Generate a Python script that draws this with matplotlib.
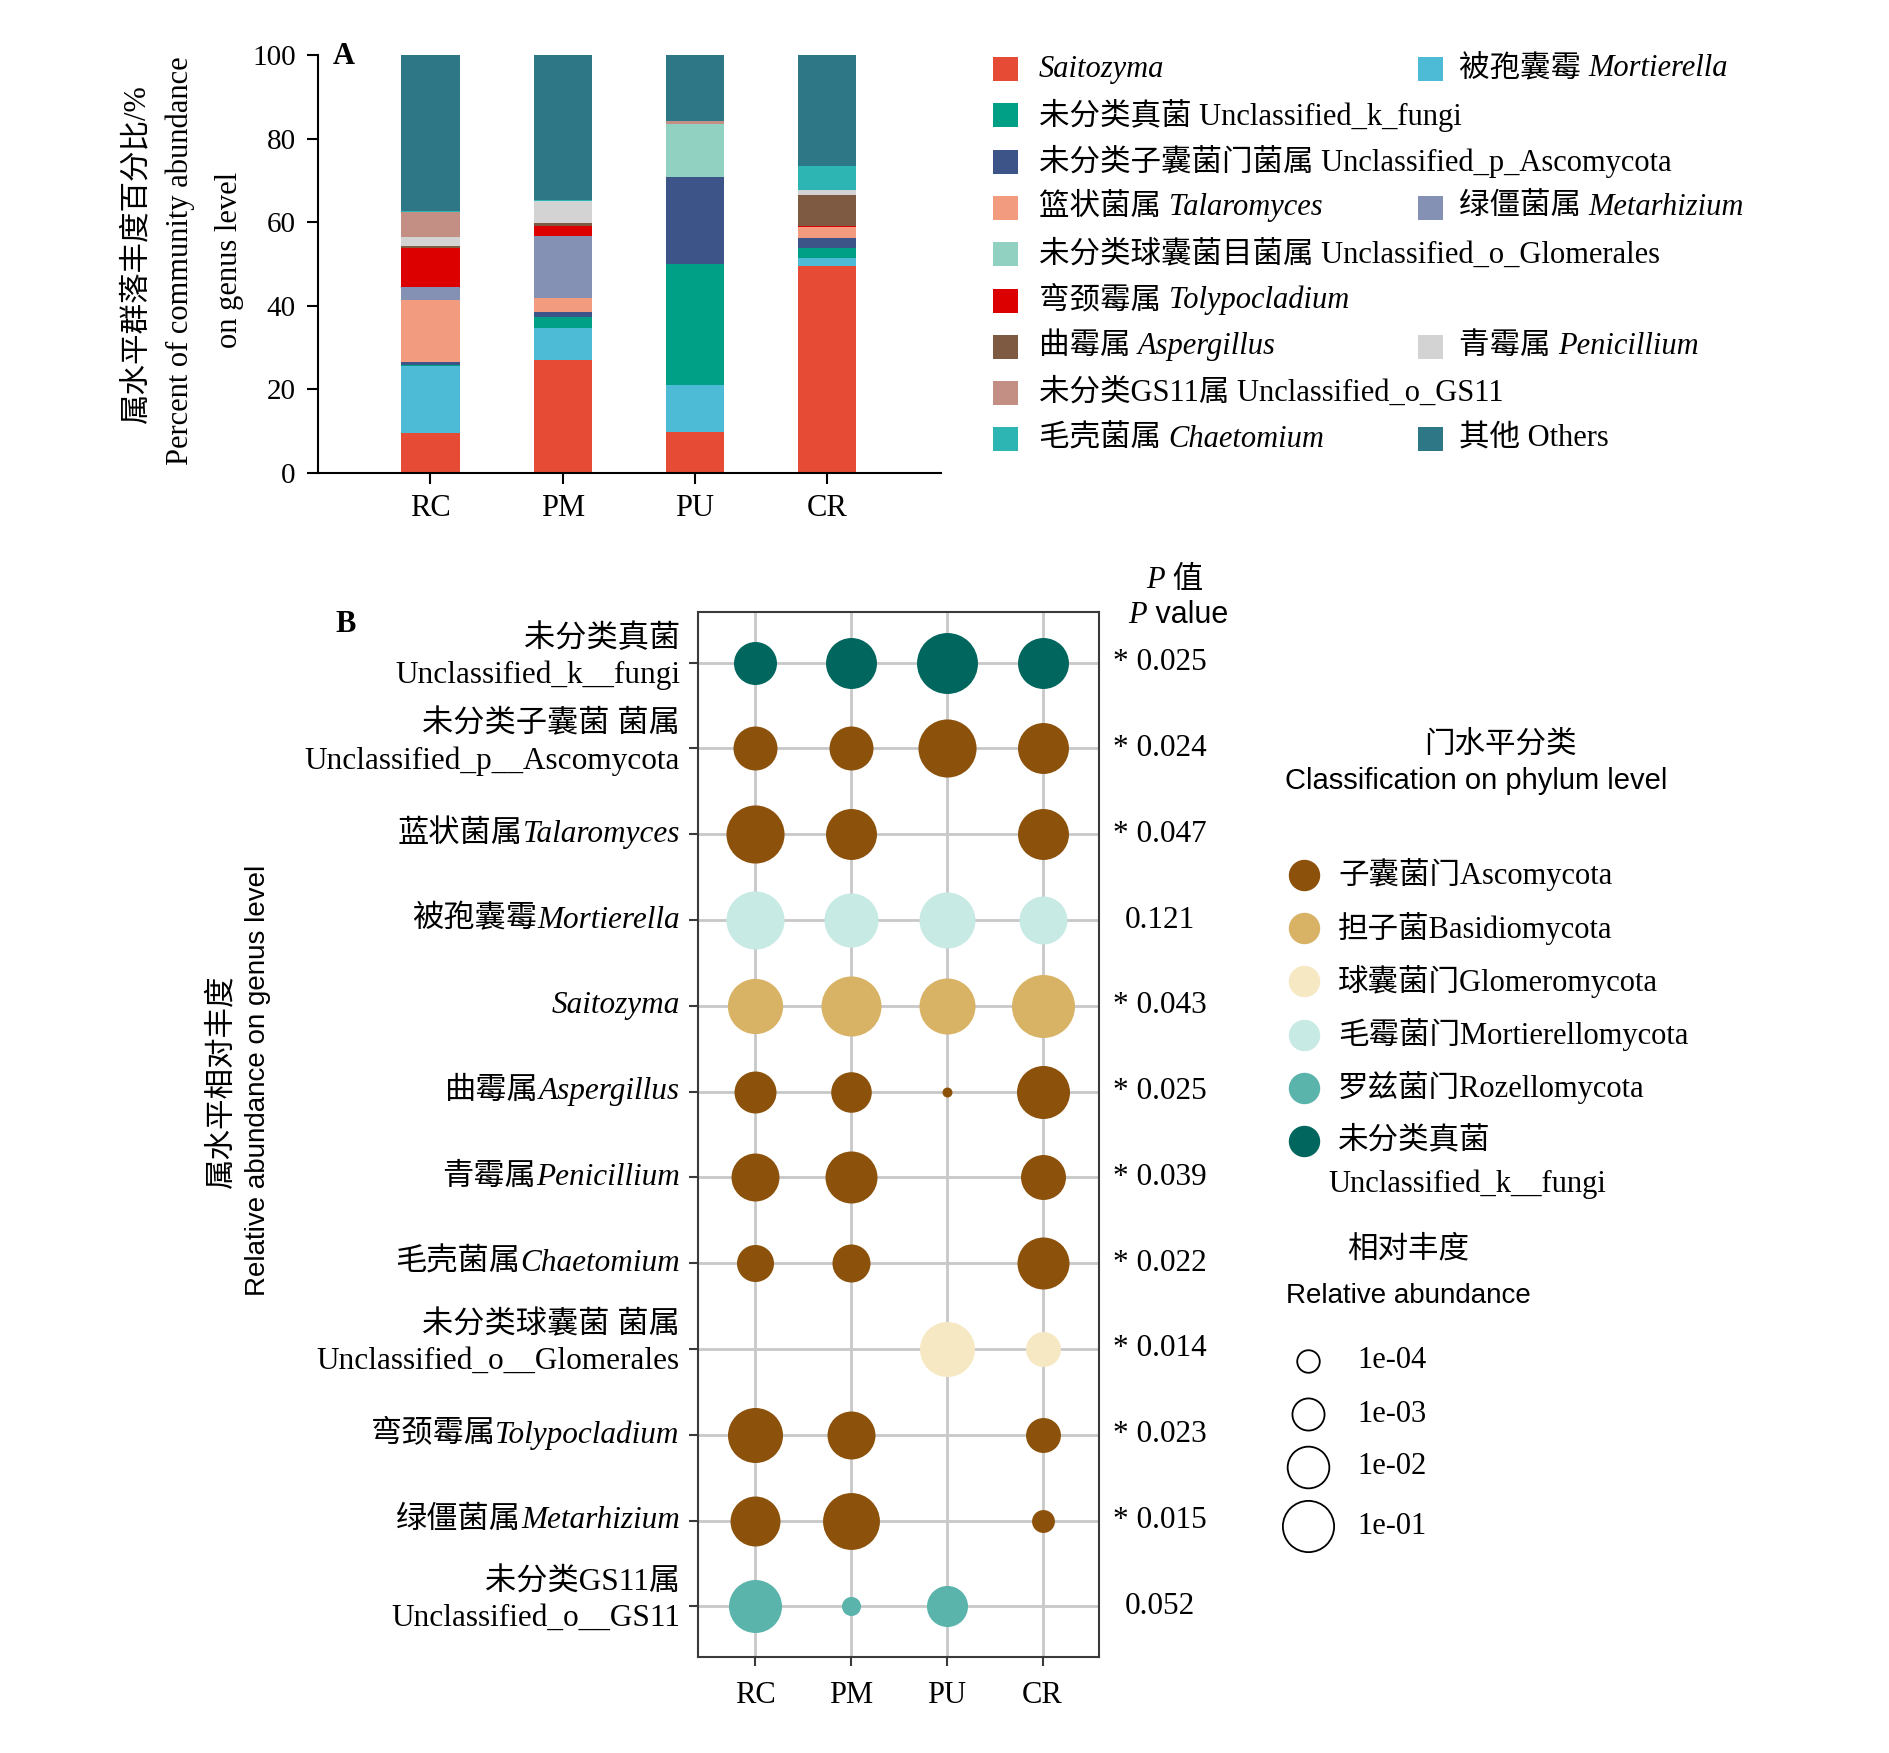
import numpy as np
import matplotlib
matplotlib.use('Agg')
import matplotlib.pyplot as plt
from matplotlib.offsetbox import TextArea, HPacker, AnnotationBbox
from matplotlib.lines import Line2D
from matplotlib.patches import Rectangle

W, H = 1890, 1753
SERIF = ['Liberation Serif', 'Noto Sans CJK SC']
SANS = ['Liberation Sans', 'Noto Sans CJK SC']
plt.rcParams['font.family'] = SERIF

groups = ['RC', 'PM', 'PU', 'CR']

# ---------------- panel A data (percent, stacking order bottom->top)
genus_a = ['Saitozyma', 'Mortierella', 'Unclassified_k_fungi', 'Unclassified_p_Ascomycota',
           'Talaromyces', 'Metarhizium', 'Unclassified_o_Glomerales', 'Tolypocladium',
           'Aspergillus', 'Penicillium', 'Unclassified_o_GS11', 'Chaetomium', 'Others']
colors_a = ['#E64B35', '#4DBBD5', '#00A087', '#3C5488', '#F39B7F', '#8491B4', '#91D1C2',
            '#DC0000', '#7E5A43', '#D3D3D3', '#C38F85', '#2CB5B3', '#2E7787']
rc_pct = [9.6, 15.9, 0.4, 0.7, 14.9, 3.0, 0.0, 9.4, 0.4, 2.1, 6.1, 0.1, 37.4]
pm_pct = [27.1, 7.6, 2.6, 1.2, 3.3, 14.9, 0.0, 2.5, 0.6, 5.2, 0.0, 0.2, 34.8]
pu_pct = [9.8, 11.2, 29.0, 20.9, 0.0, 0.0, 12.6, 0.0, 0.0, 0.0, 0.6, 0.0, 15.9]
cr_pct = [49.6, 1.8, 2.5, 2.4, 2.5, 0.0, 0.0, 0.4, 7.2, 1.2, 0.0, 5.9, 26.5]

# legend A entries: (parts, genus index, column, row)
legend_a = [
    ([('Saitozyma', True)], 0, 0, 0),
    ([('被孢囊霉 ', False), ('Mortierella', True)], 1, 1, 0),
    ([('未分类真菌 Unclassified_k_fungi', False)], 2, 0, 1),
    ([('未分类子囊菌门菌属 Unclassified_p_Ascomycota', False)], 3, 0, 2),
    ([('篮状菌属 ', False), ('Talaromyces', True)], 4, 0, 3),
    ([('绿僵菌属 ', False), ('Metarhizium', True)], 5, 1, 3),
    ([('未分类球囊菌目菌属 Unclassified_o_Glomerales', False)], 6, 0, 4),
    ([('弯颈霉属 ', False), ('Tolypocladium', True)], 7, 0, 5),
    ([('曲霉属 ', False), ('Aspergillus', True)], 8, 0, 6),
    ([('青霉属 ', False), ('Penicillium', True)], 9, 1, 6),
    ([('未分类GS11属 Unclassified_o_GS11', False)], 10, 0, 7),
    ([('毛壳菌属 ', False), ('Chaetomium', True)], 11, 0, 8),
    ([('其他 Others', False)], 12, 1, 8),
]

# ---------------- panel B data (relative abundance, nan = absent)
labels_b = [
    [('未分类真菌\nUnclassified_k__fungi', False)],
    [('未分类子囊菌 菌属\nUnclassified_p__Ascomycota', False)],
    [('蓝状菌属', False), ('Talaromyces', True)],
    [('被孢囊霉', False), ('Mortierella', True)],
    [('Saitozyma', True)],
    [('曲霉属', False), ('Aspergillus', True)],
    [('青霉属', False), ('Penicillium', True)],
    [('毛壳菌属', False), ('Chaetomium', True)],
    [('未分类球囊菌 菌属\nUnclassified_o__Glomerales', False)],
    [('弯颈霉属', False), ('Tolypocladium', True)],
    [('绿僵菌属', False), ('Metarhizium', True)],
    [('未分类GS11属\nUnclassified_o__GS11', False)],
]
phylum_b = ['Unclassified', 'Ascomycota', 'Ascomycota', 'Mortierellomycota', 'Basidiomycota',
            'Ascomycota', 'Ascomycota', 'Ascomycota', 'Glomeromycota', 'Ascomycota',
            'Ascomycota', 'Rozellomycota']
nan = np.nan
abund_rc = [0.006, 0.0075, 0.17, 0.17, 0.09, 0.0048, 0.018, 0.0016, nan, 0.086, 0.028, 0.055]
abund_pm = [0.035, 0.0075, 0.035, 0.07, 0.26, 0.0035, 0.044, 0.002, nan, 0.018, 0.13, 0.00003]
abund_pu = [0.32, 0.17, nan, 0.107, 0.107, 0.000004, nan, nan, 0.086, nan, nan, 0.0039]
abund_cr = [0.035, 0.035, 0.035, 0.018, 0.50, 0.055, 0.0093, 0.044, 0.001, 0.001, 0.00007, nan]
pvals = ['* 0.025', '* 0.024', '* 0.047', '0.121', '* 0.043', '* 0.025', '* 0.039',
         '* 0.022', '* 0.014', '* 0.023', '* 0.015', '0.052']

phyla = ['Ascomycota', 'Basidiomycota', 'Glomeromycota', 'Mortierellomycota',
         'Rozellomycota', 'Unclassified']
phyla_cn = ['子囊菌门', '担子菌', '球囊菌门', '毛霉菌门', '罗兹菌门', '未分类真菌']
phyla_col = ['#8C510A', '#D8B365', '#F6E8C3', '#C7EAE5', '#5AB4AC', '#01665E']
size_breaks = [1e-4, 1e-3, 1e-2, 1e-1]


def diam_px(a):
    return 66.1 + 10.4 * np.log10(a)


def mixed(parts, size, fam=SERIF):
    kids = []
    for p in parts:
        t, it = p[0], p[1]
        f = p[2] if len(p) > 2 else fam
        kids.append(TextArea(t, textprops=dict(fontsize=size, family=f,
                                               style='italic' if it else 'normal')))
    return HPacker(children=kids, align='baseline', pad=0, sep=0)


def put(fig, box, x, y, align=(0, 0.5)):
    ab = AnnotationBbox(box, (x, H - y), xycoords='figure pixels', box_alignment=align,
                        frameon=False, pad=0)
    fig.add_artist(ab)


fig = plt.figure(figsize=(W / 100, H / 100), dpi=100)

# ---------------- panel A
ax_a = fig.add_axes([318 / W, (H - 473) / H, (941 - 318) / W, (473 - 55) / H])
data_a = np.array([rc_pct, pm_pct, pu_pct, cr_pct]).T
xs = np.arange(len(groups))
bottom = np.zeros(len(groups))
for i, g in enumerate(genus_a):
    ax_a.bar(xs, data_a[i], bottom=bottom, width=0.44, color=colors_a[i], linewidth=0)
    bottom += data_a[i]
ax_a.set_xlim(-0.85, 3.86)
ax_a.set_ylim(0, 100)
ax_a.set_yticks([0, 20, 40, 60, 80, 100])
ax_a.set_xticks(xs)
ax_a.set_xticklabels(groups, fontsize=22)
for s in ['top', 'right']:
    ax_a.spines[s].set_visible(False)
for s in ['left', 'bottom']:
    ax_a.spines[s].set_linewidth(1.5)
ax_a.tick_params(axis='y', labelsize=21, length=8, width=1.5, pad=8)
ax_a.tick_params(axis='x', length=8, width=1.5, pad=7)

fig.text(137 / W, 1 - 255 / H, '属水平群落丰度百分比/%', rotation=90, ha='center', va='center', fontsize=22)
fig.text(180 / W, 1 - 261 / H, 'Percent of community abundance', rotation=90, ha='center', va='center', fontsize=22)
fig.text(230 / W, 1 - 260 / H, 'on genus level', rotation=90, ha='center', va='center', fontsize=22)
fig.text(333 / W, 1 - 56 / H, 'A', fontsize=22, fontweight='bold', va='center')

# legend A
col_patch = [993, 1418]
col_text = [1039, 1459]
for parts, gi, col, row in legend_a:
    yc = 69 + row * 46.3
    fig.add_artist(Rectangle(((col_patch[col]) / W, 1 - (yc + 12) / H), 25 / W, 24 / H,
                             transform=fig.transFigure, color=colors_a[gi], lw=0))
    put(fig, mixed(parts, 22), col_text[col], yc)

# ---------------- panel B
ax_b = fig.add_axes([698 / W, (H - 1657) / H, 401 / W, 1045 / H])
ab_all = np.array([abund_rc, abund_pm, abund_pu, abund_cr]).T
rows = np.arange(len(labels_b))
for r in rows:
    col = phyla_col[phyla.index(phylum_b[r])]
    for c in range(len(groups)):
        v = ab_all[r, c]
        if np.isnan(v):
            continue
        ax_b.scatter(c, r, s=(diam_px(v) * 0.72) ** 2, color=col, linewidths=0, zorder=3)
ax_b.set_xlim(-0.6, 3.59)
ax_b.set_ylim(11.59, -0.59)
ax_b.set_xticks(xs)
ax_b.set_xticklabels(groups, fontsize=22)
ax_b.set_yticks(rows)
ax_b.tick_params(axis='y', labelleft=False, length=6.5, width=1.5, color='#3a3a3a')
ax_b.tick_params(axis='x', length=6.5, width=1.5, color='#3a3a3a', pad=11)
ax_b.grid(True, color='#c8c8c8', linewidth=2)
ax_b.set_axisbelow(True)
for s in ax_b.spines.values():
    s.set_color('#3a3a3a')
    s.set_linewidth(1.5)

ytr = ax_b.get_yaxis_transform()
for r in rows:
    parts = labels_b[r]
    if len(parts) == 1 and '\n' in parts[0][0]:
        ax_b.annotate(parts[0][0], xy=(0, r), xycoords=ytr, xytext=(-13, 4),
                      textcoords='offset points', ha='right', va='center', ma='right',
                      fontsize=22.5, linespacing=1.3, annotation_clip=False)
    else:
        box = mixed(parts, 22.5)
        a = AnnotationBbox(box, (0, r), xycoords=ytr, xybox=(-13, 0), boxcoords='offset points',
                           box_alignment=(1, 0.5), frameon=False, pad=0, annotation_clip=False)
        ax_b.add_artist(a)
    ax_b.annotate(pvals[r], xy=(1, r), xycoords=ytr, xytext=(44, 0), textcoords='offset points',
                  ha='center', va='center', fontsize=22.5, annotation_clip=False)

put(fig, mixed([('P', True), (' 值', False)], 22), 1175, 580, align=(0.5, 0.5))
put(fig, mixed([('P', True), (' value', False, SANS)], 22), 1178, 615, align=(0.5, 0.5))

fig.text(222 / W, 1 - 1082 / H, '属水平相对丰度', rotation=90, ha='center', va='center', fontsize=22)
fig.text(258 / W, 1 - 1080 / H, 'Relative abundance on genus level', rotation=90, ha='center',
         va='center', fontsize=20, family=SANS)
fig.text(335 / W, 1 - 625 / H, 'B', fontsize=22, fontweight='bold', va='center')

# legend B : phylum colours
fig.text(1500 / W, 1 - 745 / H, '门水平分类', ha='center', va='center', fontsize=22)
fig.text(1476 / W, 1 - 781 / H, 'Classification on phylum level', ha='center', va='center',
         fontsize=21, family=SANS)
for i, (cn, en) in enumerate(zip(phyla_cn, phyla)):
    yc = 875 + i * 53.2
    fig.add_artist(Line2D([1304 / W], [1 - yc / H], transform=fig.transFigure, marker='o',
                          markersize=30 * 0.72, color=phyla_col[i], linestyle=''))
    if en == 'Unclassified':
        fig.text(1338 / W, 1 - yc / H, cn, va='center', fontsize=22)
        fig.text(1328 / W, 1 - 1184 / H, 'Unclassified_k__fungi', va='center', fontsize=22)
    else:
        fig.text(1338 / W, 1 - yc / H, cn + en, va='center', fontsize=22)

# legend B : sizes
fig.text(1408 / W, 1 - 1250 / H, '相对丰度', ha='center', va='center', fontsize=22)
fig.text(1408 / W, 1 - 1296 / H, 'Relative abundance', ha='center', va='center', fontsize=20,
         family=SANS)
for i, b in enumerate(size_breaks):
    yc = [1361, 1414, 1467, 1526][i]
    fig.add_artist(Line2D([1308 / W], [1 - yc / H], transform=fig.transFigure, marker='o',
                          markersize=diam_px(b) * 0.72 * 0.92, markerfacecolor='none',
                          markeredgecolor='black', markeredgewidth=1.3, linestyle=''))
    fig.text(1357 / W, 1 - yc / H, '%.0e' % b, va='center', fontsize=22)

fig.savefig('out.png', dpi=100)
